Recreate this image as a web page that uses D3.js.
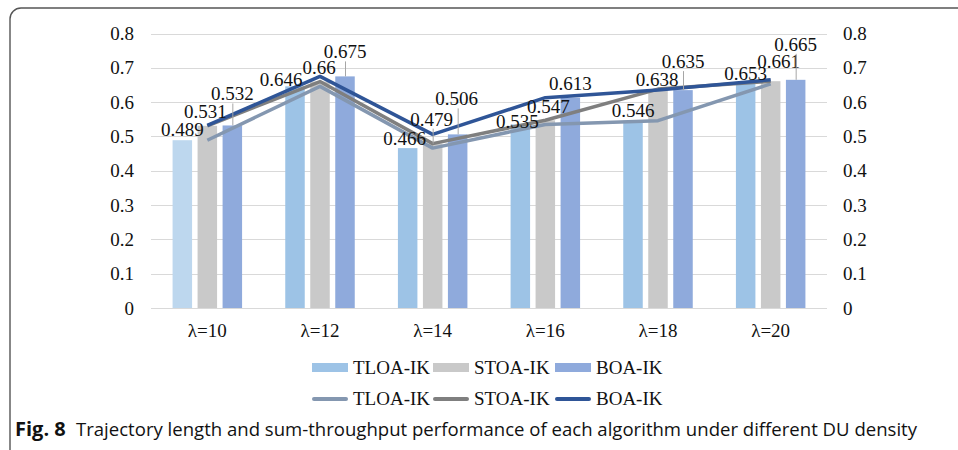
<!DOCTYPE html>
<html>
<head>
<meta charset="utf-8">
<script src="https://cdn.jsdelivr.net/npm/d3@7"></script>
<style>
  body { margin: 0; background: #fff; }
  svg text { font-family: "Liberation Serif", "Times New Roman", serif; fill: #111; }
</style>
</head>
<body>
<div id="chart"></div>
<script>
// data
var categories = ["λ=10", "λ=12", "λ=14", "λ=16", "λ=18", "λ=20"];
var seriesNames = ["TLOA-IK", "STOA-IK", "BOA-IK"];
var tloa = [0.489, 0.646, 0.466, 0.535, 0.546, 0.653];
var stoa = [0.531, 0.66, 0.479, 0.547, 0.638, 0.661];
var boa = [0.532, 0.675, 0.506, 0.613, 0.635, 0.665];
var yTicks = [0, 0.1, 0.2, 0.3, 0.4, 0.5, 0.6, 0.7, 0.8];

// label nudges (px) so labels sit where excel put them
var nudgeX = [[0, -14, -3, -3, 0, 0], [-2, -1, -1, 3, -1, 8], [0, 0, -1, 0, 0, 0]];
var nudgeY = [[0, 4, 1, 8, 0, 0], [-4, -4, -14, -3, 1, -9], [-21, -14, -25, -4, -18, -25]];

function chart() {
    var width = 958, height = 450,
        margin = ({ top: 33.5, right: 131, bottom: 142, left: 151 });
    var fs = "19px";

    var barColors = ["#9dc3e6", "#c9c9c9", "#8faadc"];
    var lineColors = ["#8497b0", "#7f7f7f", "#2f5597"];
    var values = [tloa, stoa, boa];

    var svg = d3.select("#chart").append("svg")
        .attr("width", width).attr("height", height);

    // frame
    svg.append("rect")
        .attr("x", 10).attr("y", 8)
        .attr("width", 970).attr("height", 460)
        .attr("rx", 11)
        .attr("fill", "none").attr("stroke", "#555").attr("stroke-width", 1.4);

    let x = d3.scaleBand()
        .domain(categories)
        .range([margin.left, width - margin.right])
        .paddingInner(0).paddingOuter(0);

    let y = d3.scaleLinear()
        .domain([0, 0.8])
        .range([height - margin.bottom, margin.top]);

    var step = 25, bw = 19.5;
    var cx = (i, s) => x(categories[i]) + x.bandwidth() / 2 + (s - 1) * step;

    // grid
    svg.append("g")
        .selectAll("line")
        .data(yTicks)
        .join("line")
        .attr("x1", margin.left).attr("x2", width - margin.right)
        .attr("y1", d => Math.round(y(d)) + 0.5).attr("y2", d => Math.round(y(d)) + 0.5)
        .attr("stroke", "#d9d9d9").attr("stroke-width", 1);

    // left + right tick labels
    svg.append("g")
        .selectAll("text")
        .data(yTicks)
        .join("text")
        .attr("x", 134).attr("y", d => y(d) + 6.5)
        .attr("text-anchor", "end")
        .style("font-size", fs)
        .text(d => d3.format("")(d));

    svg.append("g")
        .selectAll("text")
        .data(yTicks)
        .join("text")
        .attr("x", 843).attr("y", d => y(d) + 6.5)
        .style("font-size", fs)
        .text(d => d3.format("")(d));

    // bars
    values.forEach(function(vals, s) {
        svg.append("g")
            .selectAll("rect")
            .data(vals)
            .join("rect")
            .attr("x", (d, i) => cx(i, s) - bw / 2)
            .attr("y", d => y(d))
            .attr("width", bw)
            .attr("height", d => y(0) - y(d))
            .attr("fill", (d, i) => (s == 0 && i == 0) ? "#bdd7ee" : barColors[s]);
    });

    // lines (through category centres)
    var line = d3.line()
        .x((d, i) => x(categories[i]) + x.bandwidth() / 2)
        .y(d => y(d));

    values.forEach(function(vals, s) {
        svg.append("path")
            .datum(vals)
            .attr("d", line)
            .attr("fill", "none")
            .attr("stroke", lineColors[s])
            .attr("stroke-width", 3.5)
            .attr("stroke-linejoin", "round");
    });

    // data labels + leader lines
    values.forEach(function(vals, s) {
        vals.forEach(function(v, i) {
            var lx = cx(i, s) + nudgeX[s][i];
            var ly = y(v) - 4 + nudgeY[s][i];
            if (nudgeY[s][i] < -10 && Math.abs(nudgeX[s][i]) < 2) {
                svg.append("line")
                    .attr("x1", cx(i, s) + 0.5).attr("x2", cx(i, s) + 0.5)
                    .attr("y1", ly + 3).attr("y2", y(v))
                    .attr("stroke", "#a6a6a6").attr("stroke-width", 1);
            }
            svg.append("text")
                .attr("x", lx).attr("y", ly)
                .attr("text-anchor", "middle")
                .style("font-size", fs)
                .text(v);
        });
    });

    // category labels
    svg.append("g")
        .selectAll("text")
        .data(categories)
        .join("text")
        .attr("x", d => x(d) + x.bandwidth() / 2)
        .attr("y", 337)
        .attr("text-anchor", "middle")
        .style("font-size", fs)
        .text(d => d);

    // legend
    var legX = [312, 433, 555];
    seriesNames.forEach(function(name, s) {
        svg.append("rect")
            .attr("x", legX[s]).attr("y", 363)
            .attr("width", 36).attr("height", 9)
            .attr("fill", barColors[s]);
        svg.append("text")
            .attr("x", legX[s] + 41).attr("y", 373.5)
            .style("font-size", fs)
            .text(name);

        svg.append("line")
            .attr("x1", legX[s] + 2).attr("x2", legX[s] + 34)
            .attr("y1", 399).attr("y2", 399)
            .attr("stroke", lineColors[s]).attr("stroke-width", 4)
            .attr("stroke-linecap", "round");
        svg.append("text")
            .attr("x", legX[s] + 41).attr("y", 404.5)
            .style("font-size", fs)
            .text(name);
    });

    // caption
    var cap = svg.append("text")
        .attr("x", 15).attr("y", 436)
        .style("font-family", "'Open Sans', 'Noto Sans', sans-serif")
        .style("font-size", "18.5px");
    cap.append("tspan").style("font-weight", "bold").style("font-size", "20px")
        .style("font-family", "'Open Sans', sans-serif").text("Fig. 8");
    cap.append("tspan").attr("x", 76).style("font-family", "'Open Sans', sans-serif")
        .attr("textLength", 841).attr("lengthAdjust", "spacingAndGlyphs")
        .text("Trajectory length and sum-throughput performance of each algorithm under different DU density");
}
chart()
</script>
</body>
</html>
